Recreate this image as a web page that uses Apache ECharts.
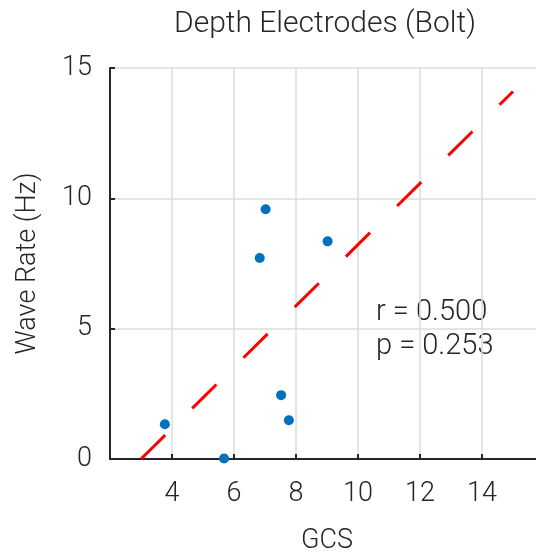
<!DOCTYPE html>
<html>
<head>
<meta charset="utf-8">
<script src="https://cdn.jsdelivr.net/npm/echarts@6/dist/echarts.min.js"></script>
<style>
  html, body { margin: 0; padding: 0; background: #fff; }
  #main { width: 536px; height: 558px; }
</style>
</head>
<body>
<div id="main"></div>
<script>
// GCS (jittered) and wave rate per patient
const gcs = [3.77, 5.68, 7.52, 7.77, 7.02, 6.83, 9.02];
const waveRate = [1.33, 0.02, 2.45, 1.49, 9.58, 7.71, 8.35];
// least-squares fit line end points
const fitX = [3, 15];
const fitY = [0, 14.1];
const stats = ['r = 0.500', 'p = 0.253'];

const font = 'Roboto';
const textColor = '#262626';

const chart = echarts.init(document.getElementById('main'));

const option = {
  animation: false,
  textStyle: { fontFamily: font, fontWeight: 300 },
  title: {
    text: 'Depth Electrodes (Bolt)',
    left: 320,
    top: 4,
    textAlign: 'center',
    textStyle: { fontFamily: font, fontWeight: 300, fontSize: 30, color: textColor },
  },
  grid: {
    left: 110,
    top: 68,
    right: -8,
    bottom: 99,
    outerBoundsMode: 'none',
    containLabel: false,
  },
  xAxis: {
    type: 'value',
    min: 2,
    max: 16,
    interval: 2,
    name: 'GCS',
    nameLocation: 'middle',
    nameGap: 69,
    nameTextStyle: { fontSize: 27, color: textColor, fontWeight: 300 },
    axisLine: { onZero: false, lineStyle: { color: textColor, width: 2 } },
    axisTick: { inside: true, length: 5, lineStyle: { color: textColor, width: 2 } },
    axisLabel: {
      showMinLabel: false,
      showMaxLabel: false,
      margin: 22,
      fontSize: 27,
      color: textColor,
      fontWeight: 300,
    },
    splitLine: { show: true, lineStyle: { color: '#dcdcdc', width: 1.5 } },
  },
  yAxis: {
    type: 'value',
    min: 0,
    max: 15,
    interval: 5,
    name: 'Wave Rate (Hz)',
    nameLocation: 'middle',
    nameGap: 68,
    nameTextStyle: { fontSize: 27, color: textColor, fontWeight: 300 },
    axisLine: { show: true, onZero: false, lineStyle: { color: textColor, width: 2 } },
    axisTick: { show: true, inside: true, length: 5, lineStyle: { color: textColor, width: 2 } },
    axisLabel: { margin: 18, fontSize: 27, color: textColor, fontWeight: 300 },
    splitLine: { show: true, lineStyle: { color: '#dcdcdc', width: 1.5 } },
  },
  series: [
    {
      type: 'line',
      data: fitX.map((x, i) => [x, fitY[i]]),
      showSymbol: false,
      symbol: 'none',
      clip: false,
      lineStyle: { color: '#ff0000', width: 3, type: [34, 38] },
      z: 3,
    },
    {
      type: 'scatter',
      data: gcs.map((x, i) => [x, waveRate[i]]),
      symbolSize: 10,
      clip: false,
      itemStyle: { color: '#0072bd', opacity: 1 },
      z: 4,
    },
  ],
  graphic: [
    {
      type: 'text',
      left: 376,
      top: 296,
      style: {
        text: stats.join('\n'),
        fontSize: 29,
        lineHeight: 34,
        fontFamily: font,
        fontWeight: 300,
        fill: textColor,
      },
    },
  ],
};

chart.setOption(option);
</script>
</body>
</html>
